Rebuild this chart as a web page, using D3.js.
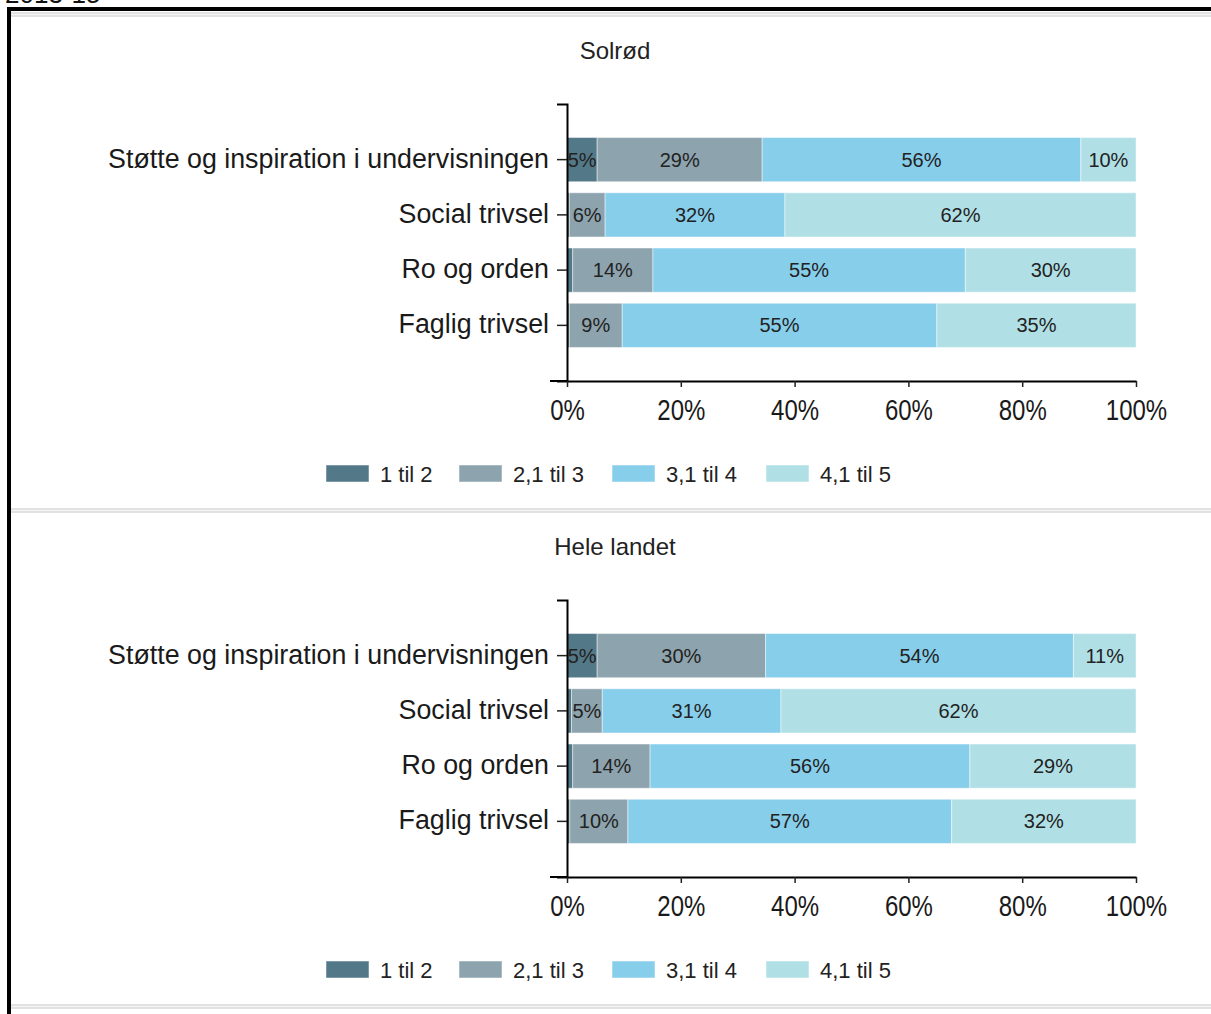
<!DOCTYPE html>
<html>
<head>
<meta charset="utf-8">
<script src="https://cdn.jsdelivr.net/npm/d3@7"></script>
<style>
  body { margin: 0; background: #fff; }
  svg { display: block; font-family: "Liberation Sans", Arial, sans-serif; }
  .cat { font-size: 26.8px; fill: #1a1a1a; }
  .title { font-size: 24px; fill: #222; }
  .tick-x { font-size: 30px; fill: #1a1a1a; }
  .seg-label { font-size: 20px; fill: #222; }
  .legend-label { font-size: 22px; fill: #222; }
</style>
</head>
<body>
<svg width="1211" height="1014"></svg>
<script>
// data
const categories = ['Støtte og inspiration i undervisningen', 'Social trivsel', 'Ro og orden', 'Faglig trivsel']
const seriesNames = ['1 til 2', '2,1 til 3', '3,1 til 4', '4,1 til 5']
const seriesColors = ['#537888', '#8da3ad', '#87ceeb', '#b0e0e6']

// shares in percent per category, in series order
const solrodValues = [
  [5.3, 29.0, 56.0, 9.7],
  [0.4, 6.3, 31.6, 61.7],
  [1.0, 14.1, 54.9, 30.0],
  [0.4, 9.3, 55.3, 35.0]
]
const heleLandetValues = [
  [5.3, 29.6, 54.1, 11.0],
  [0.8, 5.4, 31.4, 62.4],
  [1.0, 13.6, 56.2, 29.2],
  [0.5, 10.2, 56.9, 32.4]
]
const xTickValues = [0, 20, 40, 60, 80, 100]

const panels = [
  { title: 'Solrød', values: solrodValues, top: 0 },
  { title: 'Hele landet', values: heleLandetValues, top: 496 }
]

const svg = d3.select('svg')

// year text, cut off at the top as in the picture
svg.append('text')
  .attr('x', 5)
  .attr('y', 3)
  .style('font-size', '26px')
  .style('fill', '#111')
  .text('2013-15')

// page frame: thick black border on top and left, light gray rules
svg.append('rect').attr('x', 7).attr('y', 7).attr('width', 1204).attr('height', 4).style('fill', '#000')
svg.append('rect').attr('x', 7).attr('y', 7).attr('width', 4).attr('height', 1007).style('fill', '#000')
const rules = [12, 508, 1004]
rules.forEach(y => {
  svg.append('rect').attr('x', 11).attr('y', y).attr('width', 1200).attr('height', 5).style('fill', '#e2e2e2')
  svg.append('rect').attr('x', 11).attr('y', y + 2).attr('width', 1200).attr('height', 1).style('fill', '#f4f4f4')
})

// scales shared by both panels
const x = d3.scaleLinear()
  .domain([0, 100])
  .range([567, 1136])

const y = d3.scaleBand()
  .domain(categories)
  .range([104, 381])
  .paddingInner(0.2)
  .paddingOuter(0.607)

const color = d3.scaleOrdinal()
  .domain(seriesNames)
  .range(seriesColors)

const stack = d3.stack()
  .keys(d3.range(seriesNames.length))

panels.forEach(panel => {
  const g = svg.append('g')
    .attr('transform', `translate(0, ${panel.top})`)

  g.append('text')
    .attr('class', 'title')
    .attr('x', 615)
    .attr('y', 59)
    .attr('text-anchor', 'middle')
    .text(panel.title)

  // rows -> stacked layers
  const rows = panel.values.map((vals, i) => {
    const row = { cat: categories[i] }
    vals.forEach((v, k) => { row[k] = v })
    return row
  })
  const layers = stack(rows)

  const layerG = g.selectAll('g.layer')
    .data(layers)
    .enter()
    .append('g')
    .attr('class', 'layer')
    .style('fill', d => color(seriesNames[d.key]))

  layerG.selectAll('rect')
    .data(d => d)
    .enter()
    .append('rect')
    .attr('x', d => x(d[0]))
    .attr('y', d => y(d.data.cat))
    .attr('width', d => x(d[1]) - x(d[0]))
    .attr('height', y.bandwidth())
    .style('stroke', 'rgba(255,255,255,0.45)')
    .style('stroke-width', 1)

  // percentage labels, skipped for the thin slivers
  layerG.selectAll('text')
    .data(d => d.filter(s => s[1] - s[0] >= 2.5))
    .enter()
    .append('text')
    .attr('class', 'seg-label')
    .attr('x', d => x((d[0] + d[1]) / 2))
    .attr('y', d => y(d.data.cat) + y.bandwidth() / 2 + 7)
    .attr('text-anchor', 'middle')
    .text(d => Math.round(d[1] - d[0]) + '%')

  // y axis
  const yAxis = g.append('g')
    .attr('transform', 'translate(567, 0)')
    .call(d3.axisLeft(y).tickSizeInner(10).tickSizeOuter(10).tickPadding(8))
  yAxis.select('.domain').style('stroke', '#000').style('stroke-width', 2)
  yAxis.selectAll('.tick line').style('stroke', '#222').style('stroke-width', 1.5)
  yAxis.selectAll('.tick text')
    .attr('class', 'cat')
    .attr('dy', '0.3em')
    .attr('font-size', null)
    .attr('font-family', null)

  // x axis
  const xAxis = g.append('g')
    .attr('transform', 'translate(0, 381)')
    .call(d3.axisBottom(x).tickValues(xTickValues).tickSizeInner(6).tickSizeOuter(0).tickFormat(d => d + '%'))
  xAxis.select('.domain').style('stroke', '#000').style('stroke-width', 2)
  xAxis.append('line')
    .attr('x1', 550).attr('x2', 567)
    .style('stroke', '#000').style('stroke-width', 2)
  xAxis.selectAll('.tick line').style('stroke', '#222').style('stroke-width', 1.5)
  // narrow lettering as in the picture
  xAxis.selectAll('.tick text')
    .attr('class', 'tick-x')
    .attr('font-size', null)
    .attr('font-family', null)
    .attr('y', 39)
    .attr('dy', null)
    .attr('transform', 'scale(0.8, 1)')

  // legend
  const legendX = [326, 459, 612, 766]
  const legend = g.selectAll('g.legend')
    .data(seriesNames)
    .enter()
    .append('g')
    .attr('class', 'legend')
    .attr('transform', (d, i) => `translate(${legendX[i]}, 465)`)

  legend.append('rect')
    .attr('width', 43)
    .attr('height', 17)
    .style('fill', d => color(d))
    .style('stroke', 'rgba(255,255,255,0.5)')

  legend.append('text')
    .attr('class', 'legend-label')
    .attr('x', 54)
    .attr('y', 17)
    .text(d => d)
})
</script>
</body>
</html>
